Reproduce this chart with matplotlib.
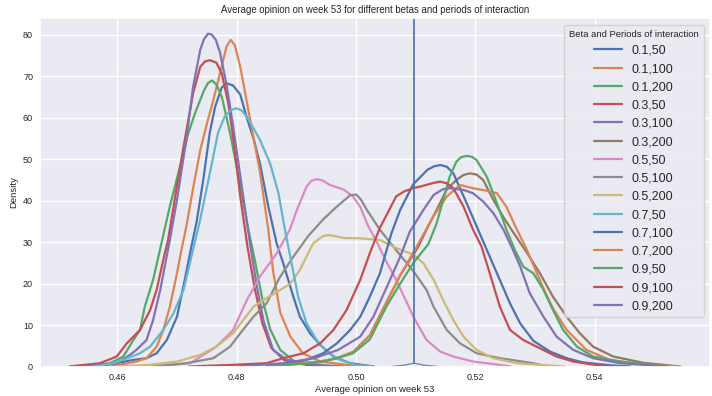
import matplotlib
matplotlib.use("Agg")
import matplotlib.pyplot as plt
import seaborn as sns

# values (x = average opinion, y = density)
labels = ["0.1,50", "0.1,100", "0.1,200", "0.3,50", "0.3,100", "0.3,200",
          "0.5,50", "0.5,100", "0.5,200", "0.7,50", "0.7,100", "0.7,200",
          "0.9,50", "0.9,100", "0.9,200"]

x_01_50 = [0.4550, 0.4588, 0.4627, 0.4649, 0.4666, 0.4683, 0.4700, 0.4713, 0.4725, 0.4733,
           0.4744, 0.4755, 0.4764, 0.4775, 0.4783, 0.4794, 0.4806, 0.4817, 0.4828, 0.4839,
           0.4853, 0.4867, 0.4878, 0.4895, 0.4906, 0.4923, 0.4940, 0.4962, 0.4990, 0.5030]
y_01_50 = [0.0, 0.5, 1.6, 2.0, 3.2, 6.4, 12.0, 20.9, 29.5, 35.0,
           45.0, 56.5, 62.7, 67.3, 68.3, 67.8, 65.6, 60.0, 55.1, 49.0,
           38.6, 29.7, 24.9, 16.8, 12.0, 8.0, 5.2, 2.4, 0.8, 0.0]

x_01_100 = [0.4590, 0.4632, 0.4649, 0.4666, 0.4677, 0.4688, 0.4700, 0.4708, 0.4716, 0.4727,
            0.4739, 0.4750, 0.4761, 0.4775, 0.4783, 0.4790, 0.4797, 0.4806, 0.4822, 0.4839,
            0.4853, 0.4861, 0.4873, 0.4890, 0.4911, 0.4940, 0.4984, 0.5030]
y_01_100 = [0.0, 1.2, 2.0, 4.8, 8.8, 14.4, 22.5, 28.5, 34.0, 43.0,
            52.2, 58.5, 64.3, 72.5, 77.2, 78.8, 77.5, 72.3, 60.0, 47.0,
            33.0, 23.0, 13.0, 7.2, 3.2, 1.2, 0.4, 0.0]

x_01_200 = [0.4521, 0.4560, 0.4588, 0.4610, 0.4627, 0.4638, 0.4646, 0.4660, 0.4672, 0.4688,
            0.4705, 0.4719, 0.4730, 0.4745, 0.4752, 0.4759, 0.4766, 0.4775, 0.4789, 0.4800,
            0.4819, 0.4830, 0.4842, 0.4856, 0.4873, 0.4895, 0.4930, 0.4970]
y_01_200 = [0.0, 0.3, 0.8, 2.4, 6.4, 8.8, 14.4, 20.9, 28.5, 38.6,
            48.2, 56.3, 61.0, 66.5, 68.4, 69.0, 68.0, 65.1, 56.3, 48.2,
            33.4, 26.0, 17.0, 9.0, 4.0, 1.4, 0.3, 0.0]

x_03_50 = [0.4520, 0.4571, 0.4599, 0.4616, 0.4638, 0.4655, 0.4666, 0.4677, 0.4685, 0.4697,
           0.4711, 0.4727, 0.4739, 0.4747, 0.4755, 0.4766, 0.4775, 0.4786, 0.4794, 0.4806,
           0.4818, 0.4830, 0.4843, 0.4858, 0.4880, 0.4920, 0.4960]
y_03_50 = [0.0, 0.8, 2.4, 5.6, 8.8, 13.6, 18.5, 25.7, 30.5, 41.0,
           53.0, 65.9, 72.3, 73.6, 73.9, 73.3, 70.7, 63.5, 55.4, 41.0,
           29.0, 19.0, 10.5, 4.5, 1.5, 0.3, 0.0]

x_03_100 = [0.4540, 0.4600, 0.4621, 0.4632, 0.4649, 0.4660, 0.4672, 0.4688, 0.4700, 0.4716,
            0.4727, 0.4739, 0.4745, 0.4752, 0.4758, 0.4765, 0.4772, 0.4783, 0.4794, 0.4803,
            0.4811, 0.4822, 0.4833, 0.4845, 0.4861, 0.4884, 0.4934, 0.4980]
y_03_100 = [0.0, 0.8, 2.8, 4.0, 6.4, 11.2, 18.5, 30.5, 40.2, 55.1,
            67.5, 76.4, 78.9, 80.3, 80.1, 78.8, 75.8, 68.0, 58.0, 49.0,
            41.0, 30.0, 20.0, 11.0, 4.0, 1.6, 0.4, 0.0]

x_03_200 = [0.4850, 0.4940, 0.4968, 0.4995, 0.5023, 0.5051, 0.5074, 0.5104, 0.5118, 0.5135,
            0.5152, 0.5168, 0.5180, 0.5191, 0.5202, 0.5213, 0.5230, 0.5247, 0.5265, 0.5286,
            0.5308, 0.5330, 0.5353, 0.5375, 0.5397, 0.5431, 0.5481, 0.5543]
y_03_200 = [0.0, 1.2, 2.0, 3.5, 7.5, 15.5, 22.0, 28.8, 33.0, 37.8,
            42.7, 45.0, 46.2, 46.6, 46.3, 45.0, 40.2, 36.0, 32.0, 27.5,
            22.5, 16.8, 12.0, 8.0, 4.8, 2.4, 0.9, 0.0]

x_05_50 = [0.4660, 0.4722, 0.4740, 0.4766, 0.4794, 0.4817, 0.4839, 0.4867, 0.4889, 0.4901,
           0.4917, 0.4925, 0.4934, 0.4944, 0.4956, 0.4979, 0.4995, 0.5007, 0.5020, 0.5035,
           0.5050, 0.5065, 0.5080, 0.5096, 0.5118, 0.5141, 0.5163, 0.5196, 0.5241, 0.5260]
y_05_50 = [0.0, 0.8, 2.4, 4.8, 8.8, 16.0, 21.7, 27.3, 33.0, 37.8,
           43.4, 44.8, 45.2, 44.9, 43.8, 42.7, 41.0, 38.5, 34.0, 30.0,
           25.5, 21.5, 17.0, 12.0, 6.4, 3.6, 2.4, 1.2, 0.4, 0.0]

x_05_100 = [0.4660, 0.4716, 0.4761, 0.4789, 0.4806, 0.4828, 0.4850, 0.4873, 0.4895, 0.4920,
            0.4945, 0.4968, 0.4990, 0.5000, 0.5008, 0.5018, 0.5040, 0.5067, 0.5096, 0.5118,
            0.5130, 0.5152, 0.5174, 0.5202, 0.5241, 0.5297, 0.5320]
y_05_100 = [0.0, 0.8, 2.0, 4.8, 8.0, 12.0, 15.2, 21.7, 26.5, 31.5,
            35.5, 38.6, 41.3, 41.5, 40.3, 37.8, 33.0, 28.1, 23.0, 18.5,
            14.4, 8.8, 5.6, 3.2, 2.0, 0.8, 0.0]

x_05_200 = [0.4600, 0.4655, 0.4700, 0.4739, 0.4766, 0.4794, 0.4811, 0.4828, 0.4850, 0.4870,
            0.4890, 0.4906, 0.4928, 0.4945, 0.4956, 0.4980, 0.5010, 0.5040, 0.5067, 0.5096,
            0.5113, 0.5130, 0.5146, 0.5163, 0.5180, 0.5202, 0.5230, 0.5269, 0.5350]
y_05_200 = [0.0, 0.4, 1.2, 2.8, 4.8, 8.0, 11.2, 14.4, 16.5, 18.2,
            20.0, 23.3, 29.7, 31.5, 31.7, 31.0, 30.9, 30.5, 28.6, 27.0,
            24.9, 20.9, 16.0, 11.2, 7.2, 4.0, 2.0, 0.8, 0.0]

x_07_50 = [0.4560, 0.4588, 0.4621, 0.4638, 0.4655, 0.4677, 0.4694, 0.4711, 0.4725, 0.4739,
           0.4755, 0.4769, 0.4780, 0.4790, 0.4799, 0.4808, 0.4817, 0.4839, 0.4856, 0.4870,
           0.4881, 0.4892, 0.4903, 0.4917, 0.4934, 0.4951, 0.4973, 0.5001, 0.5030]
y_07_50 = [0.0, 0.6, 2.2, 3.2, 4.8, 8.8, 12.8, 18.5, 27.0, 35.5,
           46.6, 56.5, 60.3, 61.8, 62.3, 61.8, 60.3, 54.7, 49.0, 41.8,
           32.9, 24.9, 16.8, 10.4, 6.4, 3.6, 1.6, 0.3, 0.0]

x_07_100 = [0.4850, 0.4917, 0.4945, 0.4968, 0.4990, 0.5007, 0.5023, 0.5040, 0.5059, 0.5074,
            0.5096, 0.5120, 0.5131, 0.5141, 0.5152, 0.5163, 0.5185, 0.5200, 0.5215, 0.5236,
            0.5258, 0.5275, 0.5297, 0.5325, 0.5353, 0.5380, 0.5425, 0.5460]
y_07_100 = [0.0, 1.6, 3.2, 5.6, 8.8, 12.0, 16.8, 22.5, 32.0, 37.8,
            44.0, 47.5, 48.3, 48.6, 48.2, 46.6, 39.5, 34.5, 29.5, 22.5,
            15.2, 10.4, 6.2, 3.6, 2.0, 1.0, 0.3, 0.0]

x_07_200 = [0.4850, 0.4940, 0.4968, 0.4995, 0.5023, 0.5051, 0.5074, 0.5100, 0.5129, 0.5152,
            0.5174, 0.5196, 0.5219, 0.5236, 0.5252, 0.5268, 0.5285, 0.5300, 0.5315, 0.5330,
            0.5353, 0.5386, 0.5425, 0.5481, 0.5537]
y_07_200 = [0.0, 1.2, 2.0, 3.5, 7.5, 15.5, 22.0, 28.5, 36.1, 41.0,
            43.8, 43.0, 42.4, 41.8, 38.5, 33.5, 28.5, 23.5, 18.5, 14.0,
            8.8, 4.0, 1.6, 0.5, 0.0]

x_09_50 = [0.4850, 0.4940, 0.4968, 0.4995, 0.5023, 0.5051, 0.5074, 0.5096, 0.5121, 0.5135,
           0.5146, 0.5157, 0.5168, 0.5176, 0.5185, 0.5194, 0.5202, 0.5219, 0.5236, 0.5252,
           0.5266, 0.5280, 0.5297, 0.5314, 0.5330, 0.5347, 0.5370, 0.5397, 0.5442, 0.5520]
y_09_50 = [0.0, 1.0, 2.0, 3.2, 6.5, 14.5, 20.0, 25.0, 29.5, 34.5,
           40.2, 45.8, 49.4, 50.5, 50.8, 50.6, 49.8, 45.8, 39.4, 33.0,
           28.1, 24.1, 22.5, 18.5, 13.6, 8.8, 4.8, 2.4, 1.2, 0.0]

x_09_100 = [0.4720, 0.4794, 0.4850, 0.4878, 0.4912, 0.4940, 0.4962, 0.4984, 0.5007, 0.5023,
            0.5040, 0.5051, 0.5067, 0.5080, 0.5095, 0.5110, 0.5130, 0.5141, 0.5152, 0.5163,
            0.5180, 0.5196, 0.5210, 0.5224, 0.5241, 0.5258, 0.5280, 0.5308, 0.5336, 0.5364,
            0.5400, 0.5430]
y_09_100 = [0.0, 0.4, 0.8, 2.0, 3.2, 5.6, 8.8, 13.6, 20.9, 27.3,
            33.5, 36.5, 41.0, 42.2, 43.0, 43.5, 44.3, 44.6, 44.2, 43.0,
            38.6, 33.0, 29.0, 22.5, 14.4, 8.8, 6.4, 4.4, 2.4, 1.2,
            0.4, 0.0]

x_09_200 = [0.4800, 0.4880, 0.4930, 0.4970, 0.5007, 0.5029, 0.5051, 0.5074, 0.5090, 0.5113,
            0.5130, 0.5146, 0.5157, 0.5180, 0.5196, 0.5213, 0.5230, 0.5247, 0.5263, 0.5275,
            0.5291, 0.5314, 0.5336, 0.5364, 0.5397, 0.5442, 0.5520]
y_09_200 = [0.0, 0.8, 2.0, 4.0, 7.2, 12.0, 19.0, 26.5, 32.5, 37.8,
            41.4, 42.8, 43.0, 42.6, 41.8, 39.8, 37.0, 33.0, 28.1, 24.1,
            17.7, 12.0, 7.2, 4.0, 2.0, 0.8, 0.0]

# narrow spike at 0.51 (unlabelled curve)
spike_x = [0.5060, 0.5080, 0.5097, 0.5097, 0.5097, 0.5115, 0.5137]
spike_y = [0.0, 0.3, 0.8, 500.0, 0.8, 0.3, 0.0]

curves = [(x_01_50, y_01_50), (x_01_100, y_01_100), (x_01_200, y_01_200),
          (x_03_50, y_03_50), (x_03_100, y_03_100), (x_03_200, y_03_200),
          (x_05_50, y_05_50), (x_05_100, y_05_100), (x_05_200, y_05_200),
          (x_07_50, y_07_50), (x_07_100, y_07_100), (x_07_200, y_07_200),
          (x_09_50, y_09_50), (x_09_100, y_09_100), (x_09_200, y_09_200)]

sns.set_theme(style="darkgrid")
plt.rcParams["font.family"] = ["Liberation Sans", "DejaVu Sans"]

fig = plt.figure(figsize=(7.12, 3.96), dpi=100)
ax = fig.add_axes([40 / 712, 29.5 / 396, 670 / 712, 348.2 / 396])

palette = sns.color_palette("deep", 10)
for i, (xs, ys) in enumerate(curves):
    ax.plot(xs, ys, color=palette[i % 10], lw=1.6, label=labels[i],
            solid_joinstyle="round")
ax.plot(spike_x, spike_y, color=palette[0], lw=0.9, alpha=0.85)

ax.set_xlim(0.44705, 0.5593)
ax.set_ylim(0, 84.0)
ax.set_xticks([0.46, 0.48, 0.50, 0.52, 0.54])
ax.set_xticklabels(["0.46", "0.48", "0.50", "0.52", "0.54"])
ax.set_yticks([0, 10, 20, 30, 40, 50, 60, 70, 80])
ax.tick_params(axis="x", labelsize=6.5, length=0, pad=5.0)
ax.tick_params(axis="y", labelsize=6.5, length=0, pad=5.0)

ax.set_title("Average opinion on week 53 for different betas and periods of interaction",
             fontsize=6.9, pad=4)
ax.set_xlabel("Average opinion on week 53", fontsize=6.8, labelpad=1.5)
ax.set_ylabel("Density", fontsize=6.8, labelpad=3.5)

leg = ax.legend(title="Beta and Periods of interaction", loc="upper right",
                fontsize=9, title_fontsize=6.8, labelspacing=0.5,
                handlelength=2.24, borderaxespad=0.5)

fig.savefig("out.png", dpi=100)
